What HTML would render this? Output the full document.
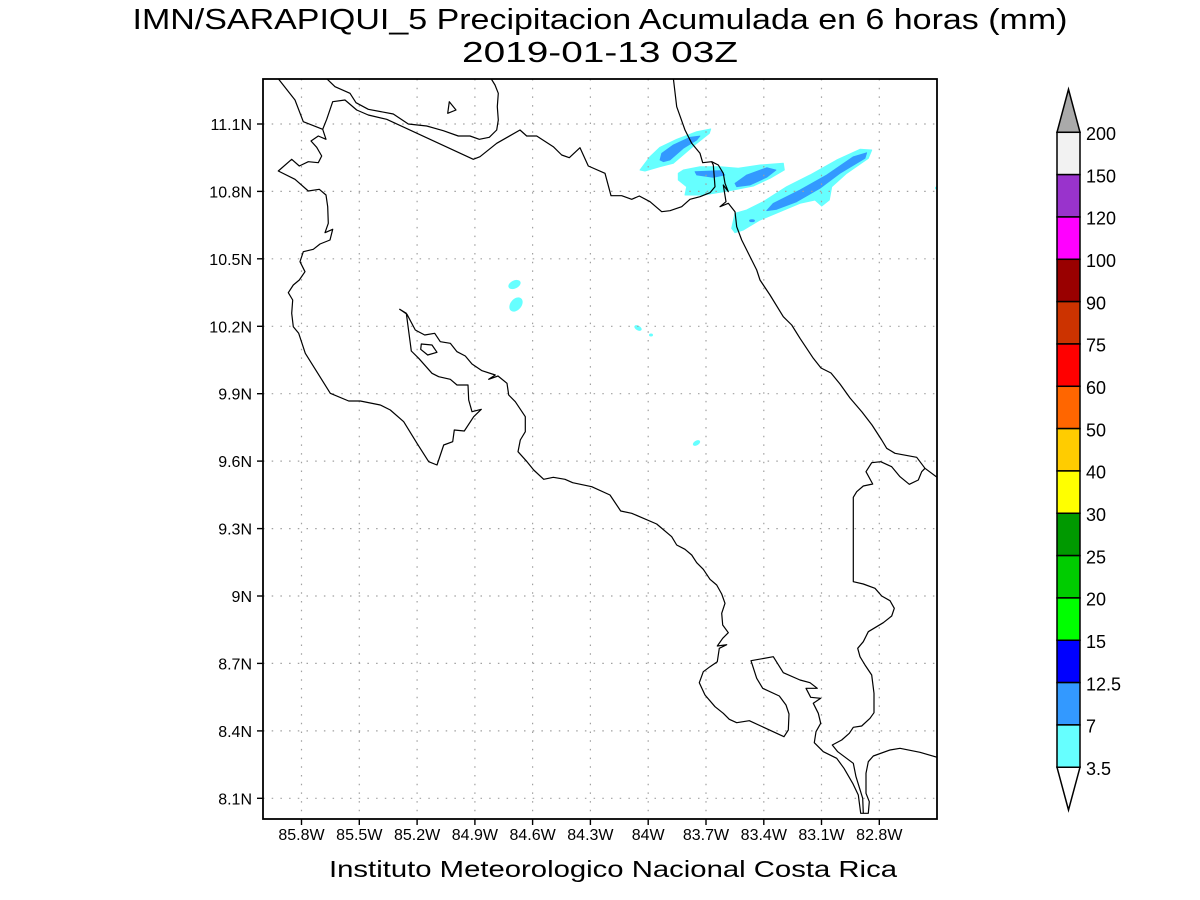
<!DOCTYPE html>
<html>
<head>
<meta charset="utf-8">
<style>
html,body{margin:0;padding:0;background:#fff;}
svg{display:block;}
text{font-family:"Liberation Sans",sans-serif;fill:#000;}
</style>
</head>
<body>
<svg width="1200" height="900" viewBox="0 0 1200 900" xmlns="http://www.w3.org/2000/svg">
<rect width="1200" height="900" fill="#fff"/>

<!-- Titles -->
<text x="600" y="29" font-size="29" text-anchor="middle" textLength="935" lengthAdjust="spacingAndGlyphs">IMN/SARAPIQUI_5 Precipitacion Acumulada en 6 horas (mm)</text>
<text x="600" y="62" font-size="29" text-anchor="middle" textLength="276" lengthAdjust="spacingAndGlyphs">2019-01-13 03Z</text>

<defs>
<clipPath id="frame"><rect x="263" y="79" width="674" height="740"/></clipPath>
</defs>

<g clip-path="url(#frame)">
  <!-- precipitation shading -->
  <g fill="#66ffff" stroke="#66ffff" stroke-width="1" stroke-linejoin="round">
    <polygon points="640,170 650,156.7 660,147.3 676.7,139.3 696.7,131.7 710.7,129 709.3,133.3 696.7,143.3 685,153.3 673.3,163.3 660,166.7 645,171"/>
    <polygon points="678.3,173.3 683.3,170 700,166.7 720,166.7 738.3,168.3 760,165 783.3,163.3 784.3,170 770,178.3 753.3,186 733.3,190 723.3,191.7 703.3,195 685,195 686.7,186.7 678.3,180"/>
    <polygon points="731.7,228.3 735,213.3 746.7,210 763.3,201.7 786.7,186.7 810,175 836.7,160 860,149.3 871.7,150 868.3,158.3 846.7,173.3 831.7,186.7 829.3,200 821.7,206 815,200 800,203.3 780,211.7 760,220 743.3,230 735,232.7"/>
    <ellipse cx="514.5" cy="284.5" rx="6" ry="3.5" transform="rotate(-25 514.5 284.5)"/>
    <ellipse cx="516" cy="304.5" rx="7.5" ry="5" transform="rotate(-50 516 304.5)"/>
    <ellipse cx="638" cy="328" rx="3.5" ry="1.8" transform="rotate(30 638 328)"/>
    <ellipse cx="651" cy="335" rx="1.5" ry="1"/>
    <ellipse cx="696.5" cy="443" rx="3.5" ry="1.8" transform="rotate(-30 696.5 443)"/>
    <ellipse cx="936.5" cy="188" rx="1" ry="1"/>
  </g>
  <g fill="#3399ff" stroke="#3399ff" stroke-width="0.8" stroke-linejoin="round">
    <polygon points="660,160 661.7,153.3 673.3,145 690,137.3 700,136 696.7,140 683.3,148.3 670,160 663.3,161.7"/>
    <polygon points="695,171.7 720,170.7 725,175 713.3,177.3 696.7,175"/>
    <polygon points="735,183.3 746.7,175 766.7,167.7 776,170 766.7,177.3 750,185 736.7,186.7"/>
    <polygon points="766.7,210.7 773.3,203.3 800,190 826.7,175 853.3,156.7 866.7,152.7 865,158.3 840,173.3 820,188.3 796.7,201.7 776.7,209.3"/>
    <ellipse cx="752" cy="220.7" rx="2.5" ry="1"/>
  </g>

  <!-- grid -->
  <g stroke="#a0a0a0" stroke-width="1.2" stroke-dasharray="1.5 7.2" fill="none">
    <line x1="301.5" y1="79" x2="301.5" y2="819"/>
    <line x1="359.3" y1="79" x2="359.3" y2="819"/>
    <line x1="417.1" y1="79" x2="417.1" y2="819"/>
    <line x1="474.9" y1="79" x2="474.9" y2="819"/>
    <line x1="532.6" y1="79" x2="532.6" y2="819"/>
    <line x1="590.4" y1="79" x2="590.4" y2="819"/>
    <line x1="648.2" y1="79" x2="648.2" y2="819"/>
    <line x1="706" y1="79" x2="706" y2="819"/>
    <line x1="763.8" y1="79" x2="763.8" y2="819"/>
    <line x1="821.5" y1="79" x2="821.5" y2="819"/>
    <line x1="879.3" y1="79" x2="879.3" y2="819"/>
    <line x1="263" y1="798.3" x2="937" y2="798.3"/>
    <line x1="263" y1="730.9" x2="937" y2="730.9"/>
    <line x1="263" y1="663.4" x2="937" y2="663.4"/>
    <line x1="263" y1="596" x2="937" y2="596"/>
    <line x1="263" y1="528.6" x2="937" y2="528.6"/>
    <line x1="263" y1="461.1" x2="937" y2="461.1"/>
    <line x1="263" y1="393.7" x2="937" y2="393.7"/>
    <line x1="263" y1="326.3" x2="937" y2="326.3"/>
    <line x1="263" y1="258.8" x2="937" y2="258.8"/>
    <line x1="263" y1="191.4" x2="937" y2="191.4"/>
    <line x1="263" y1="124" x2="937" y2="124"/>
  </g>

  <!-- coastlines / borders -->
  <g fill="none" stroke="#000" stroke-width="1.2" stroke-linejoin="round">
    <polyline points="277.7,78 295,100 303.3,121.7 322.7,129.3 326,139.3 318.3,136 311,141 316.7,147.3 321.7,156 318.3,162.7 308.3,161.7 299.3,166 291.7,159.3 278.3,171 295,179.3 308.3,191 319.3,189.3 326,195 327.7,206.7 328.3,223.3 325,232.7 332.7,229.3 330,240 320,244 313.3,249.3 303.3,251.7 300,261.7 305,271.7 299.3,280 293.3,285 288.3,292.7 292.7,300 291.7,313.3 293.3,326.7 298.7,333.3 305.3,353.3 330.3,393.3 348.7,401 360.3,401 380.3,405 390.3,410 403.7,421.7 417,443.3 428.7,461.7 437,465 443.7,445 452.7,441.7 454.3,430 464.3,431 473.7,416.7 481.3,409.3 472,411.7 468.7,400 468,385 457,385 450.3,379.3 438.7,376.7 432,373.3 418.7,358.3 411.3,351 410.3,343.3 406.3,313.3 399.7,309.3 407,314.3 415.3,330 424.7,335 434.7,333.3 440.3,341.7 450.3,343.3 457,351.7 465.3,356 472,364 482,370.7 495.3,375 488.7,379.3 498,376 507,383.3 508.7,395 515.3,401.7 525.3,416.7 525.3,431.7 520.3,440 518,451.7 527,461.7 533.7,470 543.7,479.3 553.3,477.3 565,479.3 572.7,482.7 591.7,486.7 610,495 620.7,511 631.7,513.3 656.7,524 671.7,536.7 676.7,545 685,549.3 691.7,555 696.7,562.7 703.3,569.3 710,579.3 716.7,585 721.7,594 725,603.3 721.7,613.3 722.7,625 728.3,632.7 722.7,638.3 717.3,646 726.7,644.7 719.3,648.3 717.3,661.7 710,666.7 703.3,671.7 699.3,682.7 705,695 715,706.7 723.3,713.3 729.3,719.3 736.7,722.7 749.3,720.7 784,736.7 788.3,730 789,714 786,705 779.3,696 762.7,688.3 756.7,678.3 751,660.7 773.3,656.7 783.3,672.7 800,680 810,682.7 817.3,688.3 806,688.3 810.7,697.3 820.7,698.3 813.3,703.3 818.3,713.3 820.7,723.3 816,731.7 814.3,742.7 823.3,751.7 836.7,758.3 844,768.3 852.7,783.3 858.3,795 860.7,813.3 868.3,813.3 869.3,801.7 866,793.3 866,773.3 868.3,761.7 873.3,756 890,750 900,748.3 920,752.3 938,757.5"/>
    <polyline points="863.3,813.3 862.7,798.3 856,776.7 853.3,763.3 837.7,751.7 832.3,745 841.7,740 849.3,733.3 853.3,727.3 861.7,726 870,718.3 874,712.7 874,693.3 871.7,675 865,665 860,656.7 857.7,648.3 863.3,641.7 868.3,631.7 883.3,622.7 891.7,616 894.3,608.3 890,600.7 881.7,596 875,588.3 863.3,584 853.3,581.7 853.3,497.3 856.7,491.7 863.3,486 872.7,484 866,471.7 871.7,462.7 880.7,461.7 891.7,466.7 900,476.7 909.3,484.3 918.3,480 921.7,471.7 925,468.3"/>
    <polyline points="673.3,78 676.7,106.7 685,130 691.7,143.3 700,153.3 702.7,162.7 711.7,161.7 718.3,165 723.3,173.3 725,183.3 728.3,191.7 723.3,185 726,201.7 720,206.7 728.3,203.3 735,211.7 736.7,226.7 741.7,240 746.7,250 751.7,260 756.7,270 760,280 770,295 783.3,316.7 791.7,325 800,338.3 813.3,358.3 821,368 831,373 840,384 850,398 862,412 872,425 881.7,440 886.7,448.3 895,453.3 916.7,457.3 925,468.3 938,478"/>
    <polyline points="322.7,129.3 326.7,119.3 332.7,101.7 345,100 356.7,110 368.3,115 386.7,119.3 473.3,159.3 480,156.7 496.7,143.3 508.3,136.7 520,130 526.7,136 536.7,136 553.3,146.7 561.7,155 569.3,157.7 580,147.7 588.3,166 605,173.3 611,195.7 621.7,195.7 631.7,199.3 639.3,196 650,201.7 661.7,211.7 670,210.7 681.7,206.7 690,199.3 700,196.7 710,192.7 715,186.7 713.3,165 711.7,161.7"/>
    <polyline points="326,78 335,86.7 350,93.3 356,102.7 368.3,109.3 393.3,114 408.3,124 426.7,126 443.3,130.7 458.3,136 470,136 479.3,139.3 489.3,137.3 496.7,130 498.3,120 497.3,106.7 498.3,93.3 495,85 490.7,78"/>
    <polygon points="449.3,101.7 456,110 447.7,113.3"/>
    <polygon points="421.3,344 432,345 437,352.3 427.7,355 420.7,349.3"/>
  </g>
</g>

<!-- frame -->
<rect x="263" y="79" width="674" height="740" fill="none" stroke="#000" stroke-width="1.8"/>

<!-- ticks -->
<g stroke="#000" stroke-width="1.4">
  <line x1="301.5" y1="819" x2="301.5" y2="825"/>
  <line x1="359.3" y1="819" x2="359.3" y2="825"/>
  <line x1="417.1" y1="819" x2="417.1" y2="825"/>
  <line x1="474.9" y1="819" x2="474.9" y2="825"/>
  <line x1="532.6" y1="819" x2="532.6" y2="825"/>
  <line x1="590.4" y1="819" x2="590.4" y2="825"/>
  <line x1="648.2" y1="819" x2="648.2" y2="825"/>
  <line x1="706" y1="819" x2="706" y2="825"/>
  <line x1="763.8" y1="819" x2="763.8" y2="825"/>
  <line x1="821.5" y1="819" x2="821.5" y2="825"/>
  <line x1="879.3" y1="819" x2="879.3" y2="825"/>
  <line x1="257" y1="798.3" x2="263" y2="798.3"/>
  <line x1="257" y1="730.9" x2="263" y2="730.9"/>
  <line x1="257" y1="663.4" x2="263" y2="663.4"/>
  <line x1="257" y1="596" x2="263" y2="596"/>
  <line x1="257" y1="528.6" x2="263" y2="528.6"/>
  <line x1="257" y1="461.1" x2="263" y2="461.1"/>
  <line x1="257" y1="393.7" x2="263" y2="393.7"/>
  <line x1="257" y1="326.3" x2="263" y2="326.3"/>
  <line x1="257" y1="258.8" x2="263" y2="258.8"/>
  <line x1="257" y1="191.4" x2="263" y2="191.4"/>
  <line x1="257" y1="124" x2="263" y2="124"/>
</g>

<!-- x labels -->
<g font-size="16" text-anchor="middle">
  <text x="301.5" y="840">85.8W</text>
  <text x="359.3" y="840">85.5W</text>
  <text x="417.1" y="840">85.2W</text>
  <text x="474.9" y="840">84.9W</text>
  <text x="532.6" y="840">84.6W</text>
  <text x="590.4" y="840">84.3W</text>
  <text x="648.2" y="840">84W</text>
  <text x="706" y="840">83.7W</text>
  <text x="763.8" y="840">83.4W</text>
  <text x="821.5" y="840">83.1W</text>
  <text x="879.3" y="840">82.8W</text>
</g>
<!-- y labels -->
<g font-size="16" text-anchor="end">
  <text x="252" y="804.3">8.1N</text>
  <text x="252" y="736.9">8.4N</text>
  <text x="252" y="669.4">8.7N</text>
  <text x="252" y="602">9N</text>
  <text x="252" y="534.6">9.3N</text>
  <text x="252" y="467.1">9.6N</text>
  <text x="252" y="399.7">9.9N</text>
  <text x="252" y="332.3">10.2N</text>
  <text x="252" y="264.8">10.5N</text>
  <text x="252" y="197.4">10.8N</text>
  <text x="252" y="130">11.1N</text>
</g>

<!-- bottom caption -->
<text x="329" y="877" font-size="23" textLength="568" lengthAdjust="spacingAndGlyphs">Instituto Meteorologico Nacional Costa Rica</text>

<!-- colorbar -->
<g stroke="#000" stroke-width="1.5">
  <polygon points="1057,132.3 1080,132.3 1068.5,89.3" fill="#aaaaaa"/>
  <rect x="1057" y="132.3" width="23" height="42.33" fill="#f2f2f2"/>
  <rect x="1057" y="174.63" width="23" height="42.33" fill="#9933cc"/>
  <rect x="1057" y="216.96" width="23" height="42.33" fill="#ff00ff"/>
  <rect x="1057" y="259.29" width="23" height="42.33" fill="#990000"/>
  <rect x="1057" y="301.62" width="23" height="42.33" fill="#cc3300"/>
  <rect x="1057" y="343.95" width="23" height="42.33" fill="#ff0000"/>
  <rect x="1057" y="386.28" width="23" height="42.33" fill="#ff6600"/>
  <rect x="1057" y="428.61" width="23" height="42.33" fill="#ffcc00"/>
  <rect x="1057" y="470.94" width="23" height="42.33" fill="#ffff00"/>
  <rect x="1057" y="513.27" width="23" height="42.33" fill="#009900"/>
  <rect x="1057" y="555.6" width="23" height="42.33" fill="#00cc00"/>
  <rect x="1057" y="597.93" width="23" height="42.33" fill="#00ff00"/>
  <rect x="1057" y="640.26" width="23" height="42.33" fill="#0000ff"/>
  <rect x="1057" y="682.59" width="23" height="42.33" fill="#3399ff"/>
  <rect x="1057" y="724.92" width="23" height="42.33" fill="#66ffff"/>
  <polygon points="1057,767.3 1080,767.3 1068.5,810" fill="#ffffff"/>
</g>
<g font-size="18">
  <text x="1086" y="140">200</text>
  <text x="1086" y="182.3">150</text>
  <text x="1086" y="224.7">120</text>
  <text x="1086" y="267">100</text>
  <text x="1086" y="309.3">90</text>
  <text x="1086" y="351.7">75</text>
  <text x="1086" y="394">60</text>
  <text x="1086" y="436.3">50</text>
  <text x="1086" y="478.6">40</text>
  <text x="1086" y="521">30</text>
  <text x="1086" y="563.3">25</text>
  <text x="1086" y="605.6">20</text>
  <text x="1086" y="648">15</text>
  <text x="1086" y="690.3">12.5</text>
  <text x="1086" y="732.6">7</text>
  <text x="1086" y="775">3.5</text>
</g>
</svg>
</body>
</html>
